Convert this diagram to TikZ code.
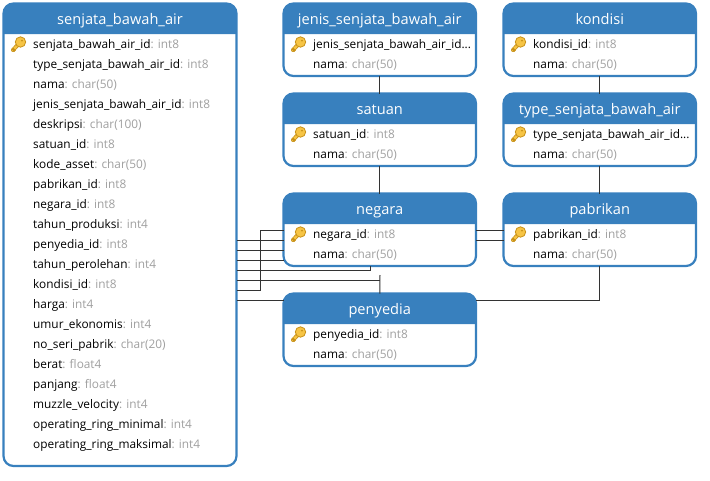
\documentclass[tikz,border=0pt]{standalone}
\usepackage{fontspec}
\setmainfont{Open Sans}
\usetikzlibrary{calc}
\definecolor{biru}{HTML}{3880BE}
\definecolor{abu}{HTML}{A0A0A0}
\definecolor{garis}{HTML}{333333}
\definecolor{emas}{HTML}{F6C445}
\definecolor{emasgelap}{HTML}{C99218}
\tikzset{
tabelbox/.style={draw=biru, line width=2.2pt, rounded corners=10pt, fill=white, minimum width=#1, inner sep=0pt, outer sep=0pt, anchor=north west},
judul/.style={text=white, font=\fontsize{14.6}{18}\selectfont, anchor=base, inner sep=0pt},
baris/.style={text=black, font=\fontsize{11.85}{14}\selectfont, anchor=base west, inner sep=0pt},
relasi/.style={draw=garis, line width=1pt},
kunci/.pic={
\draw [emasgelap, line width=4pt, line cap=round] (-0.5,0.5)--(-7.5,8);
\draw [emas, line width=2.4pt, line cap=round] (-0.5,0.5)--(-7.5,8);
\draw [emasgelap, line width=2.4pt] (-5.5,9)--(-8,6.5);
\fill [emas, draw=emasgelap, line width=0.8pt] (0,0) circle (5.2);
\fill [emasgelap] (1.4,-1.4) circle (1);
}
}
\newcommand{\kol}[2]{#1\textcolor{abu}{: #2}}
\newcommand{\titik}{...}
\newcommand{\tabel}[7]{
\node [tabelbox=#4pt, minimum height=#5pt] (#1) at (#2,#3) {};
\fill [biru] ($(#1.north west)+(0,30.5)$) [rounded corners=10pt] -- (#1.north west) -- (#1.north east) [sharp corners] -- ($(#1.north east)+(0,30.5)$) -- cycle;
\node [judul] (#1-judul) at ($(#1.north)+(0,20.8)$) {#6};
\pic at ($(#1.north west)+(17,38.5)$) {kunci};
\foreach \isi [count=\i] in {#7} {
\node [baris] (#1-\i) at ($(#1.north west)+(29.5,24.5+20*\i)$) {\isi};
}
}

\begin{document}
\begin{tikzpicture} [x=1pt,y=-1pt]
\useasboundingbox (0,0) rectangle (710,480);

% tabel kiri
\tabel{senjata}{3.5}{3.5}{233}{462.5}{senjata\_bawah\_air}{
\kol{senjata\_bawah\_air\_id}{int8},
\kol{type\_senjata\_bawah\_air\_id}{int8},
\kol{nama}{char(50)},
\kol{jenis\_senjata\_bawah\_air\_id}{int8},
\kol{deskripsi}{char(100)},
\kol{satuan\_id}{int8},
\kol{kode\_asset}{char(50)},
\kol{pabrikan\_id}{int8},
\kol{negara\_id}{int8},
\kol{tahun\_produksi}{int4},
\kol{penyedia\_id}{int8},
\kol{tahun\_perolehan}{int4},
\kol{kondisi\_id}{int8},
\kol{harga}{int4},
\kol{umur\_ekonomis}{int4},
\kol{no\_seri\_pabrik}{char(20)},
\kol{berat}{float4},
\kol{panjang}{float4},
\kol{muzzle\_velocity}{int4},
\kol{operating\_ring\_minimal}{int4},
\kol{operating\_ring\_maksimal}{int4}}

% tabel tengah
\tabel{jenis}{283.5}{3.5}{192.5}{72.5}{jenis\_senjata\_bawah\_air}{
jenis\_senjata\_bawah\_air\_id\titik,
\kol{nama}{char(50)}}
\tabel{satuan}{283.5}{93.5}{192.5}{72.5}{satuan}{
\kol{satuan\_id}{int8},
\kol{nama}{char(50)}}
\tabel{negara}{283.5}{193.5}{192.5}{72.5}{negara}{
\kol{negara\_id}{int8},
\kol{nama}{char(50)}}
\tabel{penyedia}{283.5}{293.5}{192.5}{72.5}{penyedia}{
\kol{penyedia\_id}{int8},
\kol{nama}{char(50)}}

% tabel kanan
\tabel{kondisi}{503.5}{3.5}{192.5}{72.5}{kondisi}{
\kol{kondisi\_id}{int8},
\kol{nama}{char(50)}}
\tabel{type}{503.5}{93.5}{192.5}{72.5}{type\_senjata\_bawah\_air}{
type\_senjata\_bawah\_air\_id\titik,
\kol{nama}{char(50)}}
\tabel{pabrikan}{503.5}{193.5}{192.5}{72.5}{pabrikan}{
\kol{pabrikan\_id}{int8},
\kol{nama}{char(50)}}

% relasi
\draw [relasi] (jenis.south)--(satuan.north);
\draw [relasi] (satuan.south)--(negara.north);
\draw [relasi] (kondisi.south)--(type.north);
\draw [relasi] (type.south)--(pabrikan.north);

\draw [relasi] (negara.east |- 0,230)--(pabrikan.west |- 0,230);
\draw [relasi] (negara.east |- 0,240)--(pabrikan.west |- 0,240);

\draw [relasi] (senjata.east |- 0,240)--(negara.west |- 0,240);
\draw [relasi] (senjata.east |- 0,250)--(negara.west |- 0,250);
\draw [relasi] (senjata.east |- 0,260)--(negara.west |- 0,260);
\draw [relasi] (senjata.east |- 0,290)--(260,290)--(260,230)--(negara.west |- 0,230);
\draw [relasi] (senjata.east |- 0,270)--(370.5,270)--(370.5,0 |- negara.south);
\draw [relasi] (senjata.east |- 0,280)--(380,280);
\draw [relasi] (380,275)--(penyedia.north);
\draw [relasi] (senjata.east |- 0,300)--(penyedia.west |- 0,300);
\draw [relasi] (pabrikan.south)--(pabrikan.south |- 0,300)--(penyedia.east |- 0,300);
\end{tikzpicture}
\end{document}
